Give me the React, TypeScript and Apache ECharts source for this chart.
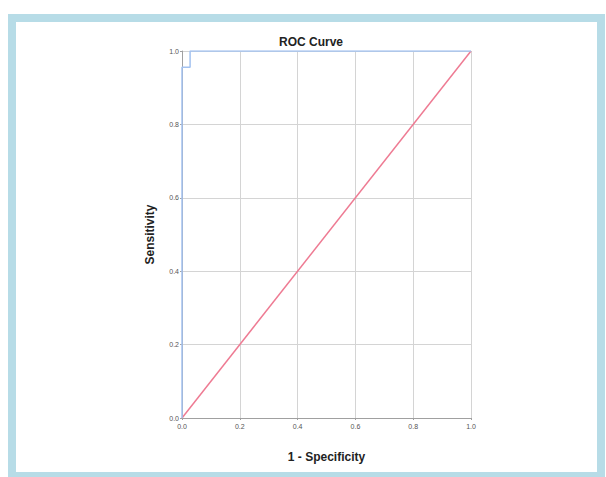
import React, { useEffect, useRef } from "react";
import * as echarts from "echarts";

const rocFpr = [0, 0, 0.028, 0.028, 1];
const rocTpr = [0, 0.956, 0.956, 1, 1];
const refFpr = [0, 1];
const refTpr = [0, 1];
const tickValues = [0, 0.2, 0.4, 0.6, 0.8, 1.0];

export default function App() {
  const ref = useRef<HTMLDivElement>(null);
  useEffect(() => {
    if (!ref.current) return;
    const chart = echarts.init(ref.current, null, { renderer: "svg" });
    const axisCommon = {
      type: "value" as const,
      min: 0,
      max: 1,
      interval: 0.2,
      nameLocation: "middle" as const,
      nameTextStyle: { fontFamily: "Liberation Sans", fontWeight: "bold" as const, fontSize: 12, color: "#222" },
      axisLine: { show: true, lineStyle: { color: "#a0a0a0", width: 1 } },
      axisTick: { show: true, length: 2, lineStyle: { color: "#a0a0a0" } },
      axisLabel: {
        fontFamily: "Liberation Sans",
        fontSize: 7,
        color: "#555555",
        formatter: (v: number) => (tickValues.some((t) => Math.abs(t - v) < 1e-9) ? v.toFixed(1) : ""),
      },
      splitLine: { show: true, lineStyle: { color: "#d4d4d4", width: 1 } },
    };
    chart.setOption({
      animation: false,
      backgroundColor: "#ffffff",
      title: {
        text: "ROC Curve",
        left: 306,
        top: 31,
        textAlign: "center",
        textStyle: { fontFamily: "Liberation Sans", fontWeight: "bold", fontSize: 12, color: "#222" },
      },
      grid: { left: 182, right: 135, top: 51, bottom: 59 },
      xAxis: { ...axisCommon, name: "1 - Specificity", nameGap: 33, axisLabel: { ...axisCommon.axisLabel, margin: 5 } },
      yAxis: { ...axisCommon, name: "Sensitivity", nameGap: 26, axisLabel: { ...axisCommon.axisLabel, margin: 3 } },
      graphic: [
        {
          type: "rect",
          shape: { x: 12, y: 18, width: 589, height: 458 },
          style: { fill: "none", stroke: "#b7dce7", lineWidth: 8 },
          silent: true,
        },
      ],
      series: [
        {
          type: "line",
          data: refFpr.map((x, i) => [x, refTpr[i]]),
          showSymbol: false,
          lineStyle: { color: "#ee7b93", width: 1.5 },
          z: 3,
        },
        {
          type: "line",
          data: rocFpr.map((x, i) => [x, rocTpr[i]]),
          showSymbol: false,
          lineStyle: { color: "#a3c2f0", width: 1.5 },
          z: 4,
        },
      ],
    });
    return () => chart.dispose();
  }, []);
  return (
    <div
      ref={ref}
      style={{ position: "fixed", left: 0, top: 0, width: 606, height: 477, background: "#fff" }}
    />
  );
}
